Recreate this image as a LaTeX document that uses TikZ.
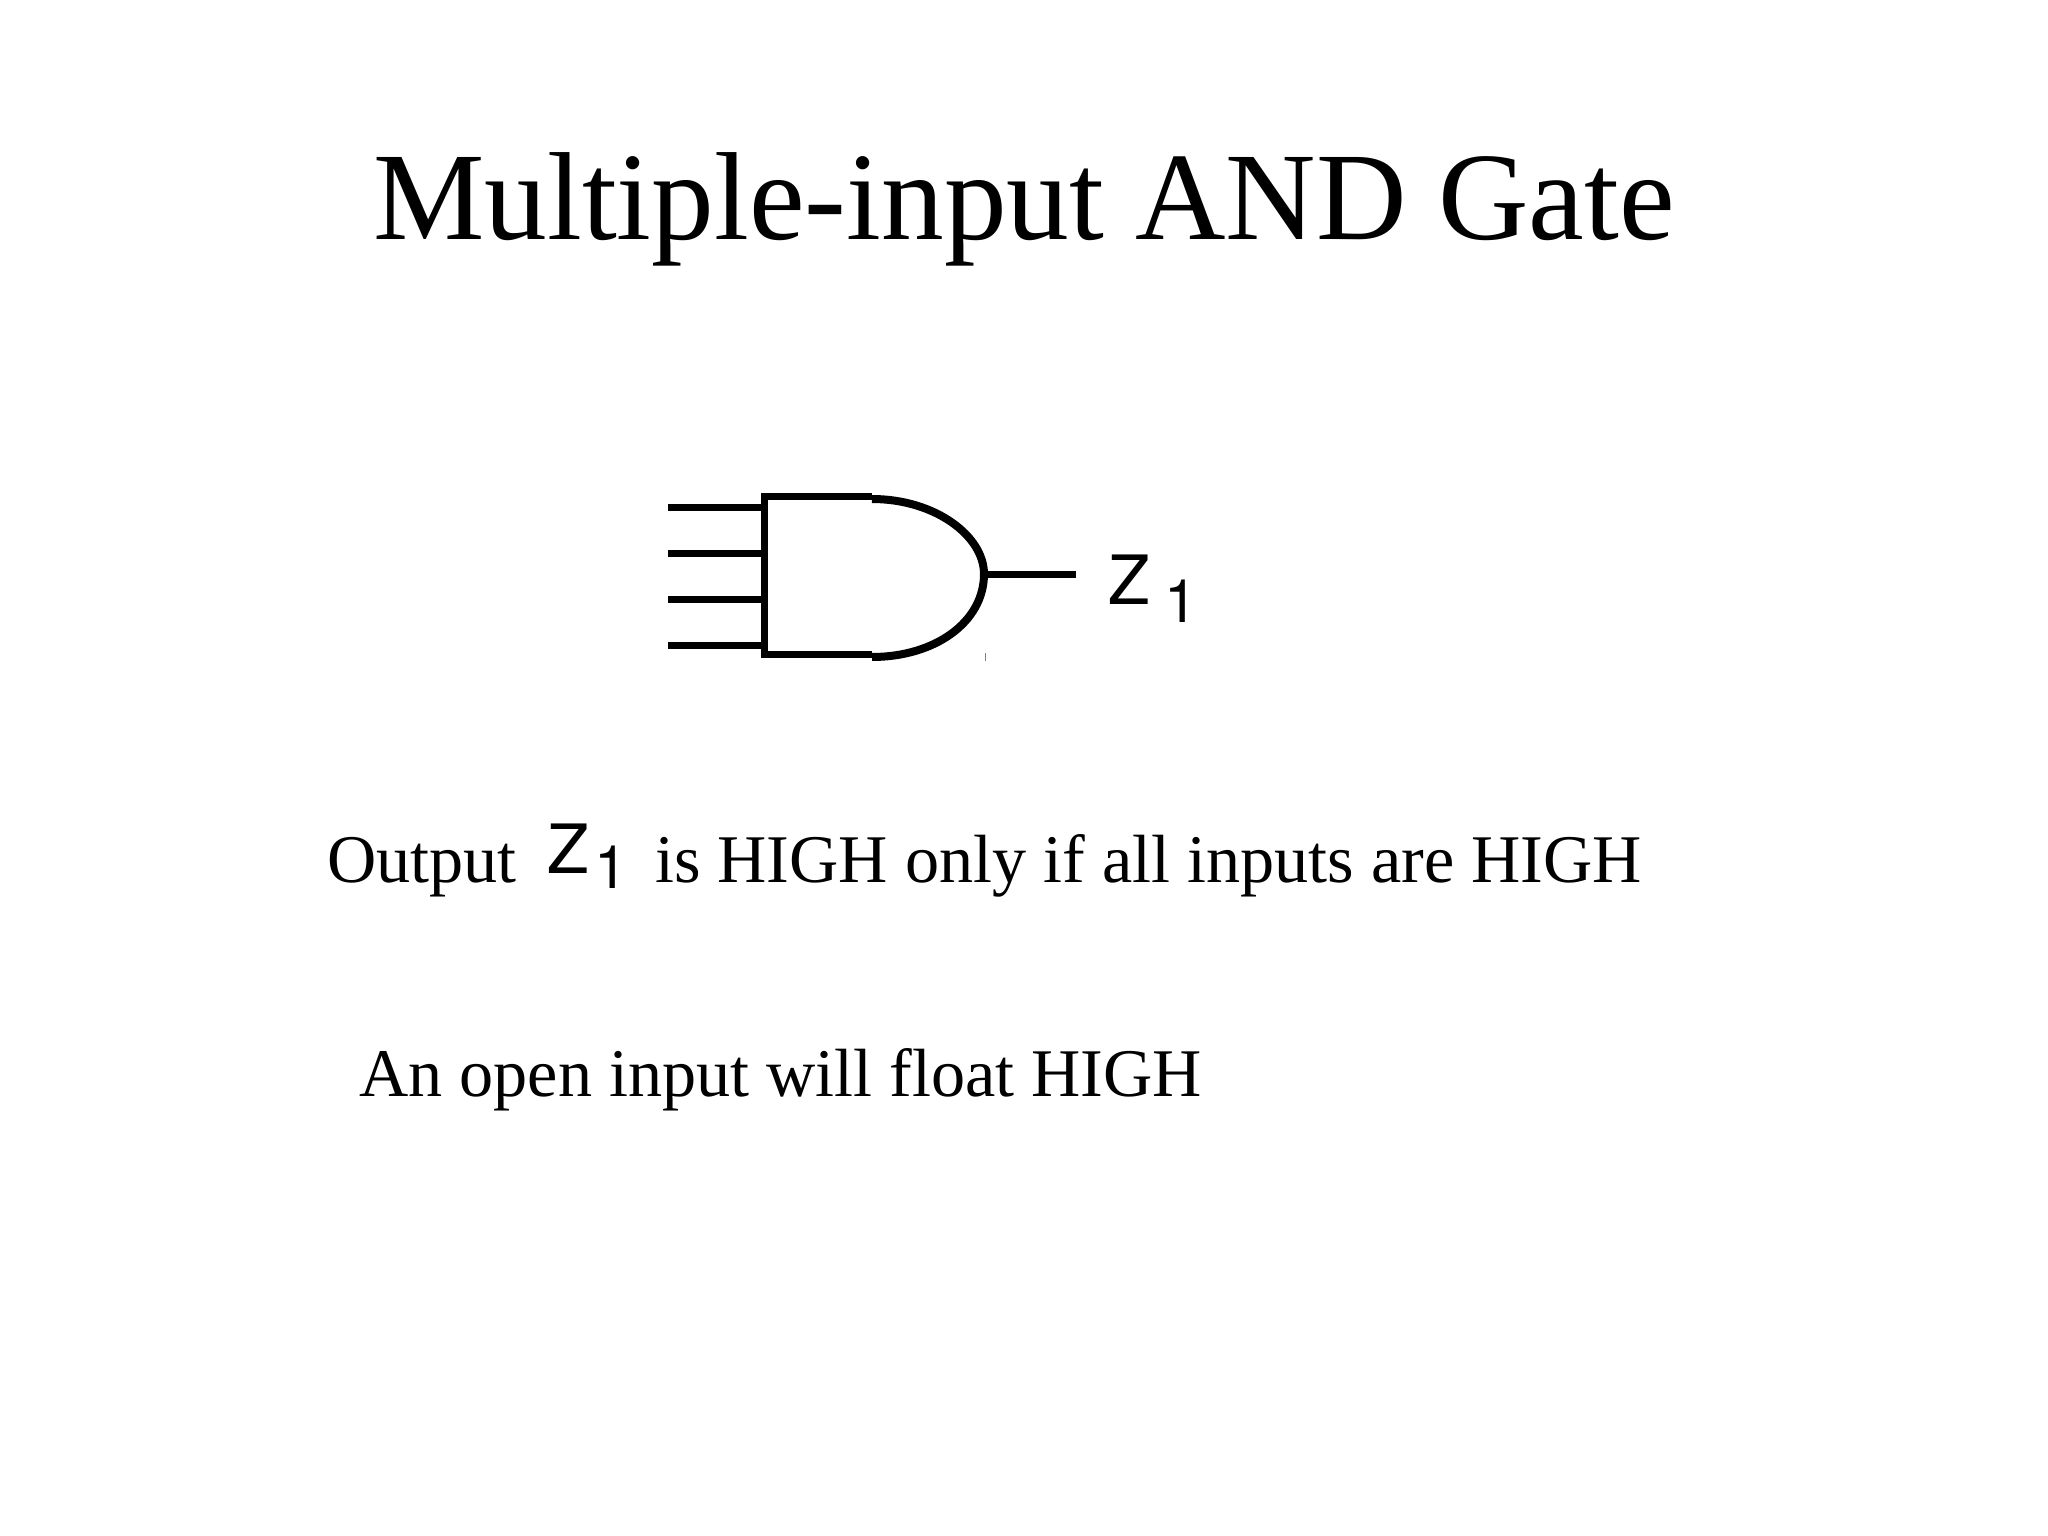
\documentclass[tikz,border=0pt]{standalone}
\usepackage{fontspec}
\setmainfont{Liberation Serif}
\setsansfont{TeX Gyre Heros}
\usepackage{xcolor}
\usetikzlibrary{positioning,calc}
\begin{document}
\begin{tikzpicture}[x=1pt,y=-1pt]
\tikzset{wire/.style={draw,line width=7pt},
	body/.style={draw,line width=8pt},
	titletext/.style={inner sep=0pt,anchor=base west,font=\fontsize{125.3}{130}\selectfont},
	linetext/.style={inner sep=0pt,anchor=base west,font=\fontsize{68.2}{72}\selectfont},
	gatename/.style={inner sep=0pt,anchor=base west,font=\sffamily\fontsize{68}{72}\selectfont},
	gateindex/.style={inner sep=0pt,anchor=base west,font=\sffamily\fontsize{60}{64}\selectfont}}
	\useasboundingbox (0,0) rectangle (2048,1536);
	\node[titletext] (title) at (373,239) {Multiple-input AND Gate};
	\coordinate (nw) at (764,496);
	\coordinate (sw) at (764,654);
	\coordinate (ne) at (872,496);
	\coordinate (se) at (872,654);
	\coordinate (tip) at (984,574);
	\coordinate (outend) at (1076,574);
	\foreach \name/\ypos in {ina/507,inb/553,inc/599,ind/645}{
		\coordinate (\name) at (668,\ypos);
		\coordinate (\name r) at (764,\ypos);
		\draw[wire] (\name) -- (\name r);
	}
	\draw[wire] (nw) -- (sw);
	\draw[wire] ($(nw)+(-3,0)$) -- (ne);
	\draw[wire] ($(sw)+(-3,0)$) -- (se);
	\draw[body] ($(ne)+(0,3)$) .. controls +(63,0) and (984,536) .. (tip)
		.. controls (984,622) and (935,657) .. ($(se)+(0,3)$);
	\draw[wire] (tip) -- (outend);
	\draw[gray,line width=1pt] (985,653) -- (985,661);
	\node[gatename] (outz) at (1108,604) {Z};
	\node[gateindex] (outi) at (1164,622) {1};
	\node[linetext] (lineone) at (327,882) {Output};
	\node[gatename] (linez) at (547,873) {Z};
	\node[gateindex] (linei) at (594,888) {1};
	\node[linetext] (linerest) at (655,882) {is HIGH only if all inputs are HIGH};
	\node[linetext] (linetwo) at (359,1096) {An open input will float HIGH};
\end{tikzpicture}
\end{document}
